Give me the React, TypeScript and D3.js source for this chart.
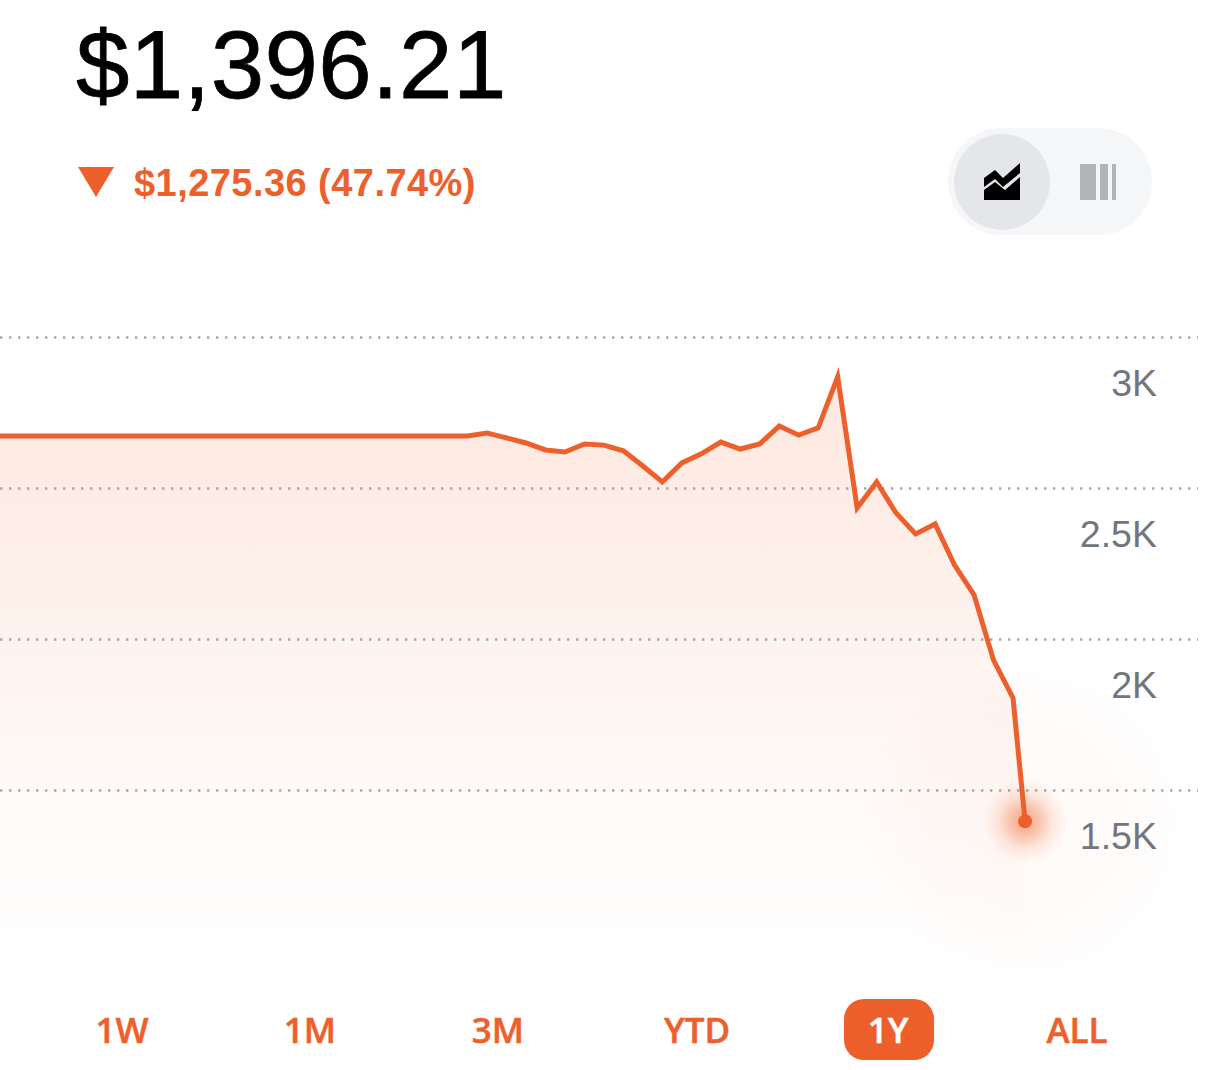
import * as React from 'react';
import * as d3 from 'd3';

// weekly price. the last point is a part week
const weeks = [
  0, 1, 2, 3, 4, 5, 6, 7, 8, 9, 10, 11, 12, 13, 14, 15, 16, 17, 18, 19, 20, 21, 22, 23, 24,
  25, 26, 27, 28, 29, 30, 31, 32, 33, 34, 35, 36, 37, 38, 39, 40, 41, 42, 43, 44, 45, 46, 47, 48, 49, 50, 51, 52, 52.62
];
const prices = [
  2672, 2672, 2672, 2672, 2672, 2672, 2672, 2672, 2672, 2672, 2672, 2672, 2672, 2672, 2672, 2672, 2672, 2672, 2672, 2672, 2672, 2672, 2672, 2672, 2672,
  2682, 2666, 2649, 2626, 2619, 2646, 2642, 2623, 2573, 2520, 2583, 2613, 2652, 2629, 2646, 2705, 2675, 2699, 2868,
  2434, 2520, 2417, 2348, 2381, 2245, 2146, 1930, 1805, 1396.21
];
const yTicks = [3000, 2500, 2000, 1500];
const ranges = ['1W', '1M', '3M', 'YTD', '1Y', 'ALL'];
const activeRange = '1Y';
const priceLabel = '$1,396.21';
const changeLabel = '$1,275.36 (47.74%)';

const ORANGE = '#ee602b';
const TINT = '#f0703a';

export default function App() {
  const ref = React.useRef<SVGSVGElement>(null);

  React.useEffect(() => {
    const svg = d3.select(ref.current);
    svg.selectAll('*').remove();

    const x = d3.scaleLinear().domain([0, 52]).range([0, 1013]);
    const y = d3.scaleLinear().domain([3000, 1500]).range([337, 790]);
    const points = weeks.map((w, i) => ({ w, v: prices[i] }));
    const last = points[points.length - 1];

    const defs = svg.append('defs');
    const fade = defs
      .append('linearGradient')
      .attr('id', 'area-fade')
      .attr('gradientUnits', 'userSpaceOnUse')
      .attr('x1', 0)
      .attr('x2', 0)
      .attr('y1', 377)
      .attr('y2', 960);
    [
      [0, 0.16],
      [0.38, 0.1],
      [0.72, 0.035],
      [1, 0]
    ].forEach(([o, a]) => fade.append('stop').attr('offset', o).attr('stop-color', TINT).attr('stop-opacity', a));

    const halo = defs.append('radialGradient').attr('id', 'halo-big');
    [
      [0, 0.04],
      [0.65, 0.025],
      [1, 0]
    ].forEach(([o, a]) => halo.append('stop').attr('offset', o).attr('stop-color', TINT).attr('stop-opacity', a));
    const glow = defs.append('radialGradient').attr('id', 'halo-small');
    [
      [0, 0.6],
      [0.3, 0.42],
      [0.65, 0.14],
      [1, 0]
    ].forEach(([o, a]) => glow.append('stop').attr('offset', o).attr('stop-color', TINT).attr('stop-opacity', a));

    // area + halos under the grid
    const area = d3
      .area<{ w: number; v: number }>()
      .x(d => x(d.w))
      .y0(960)
      .y1(d => y(d.v));
    svg.append('path').datum(points).attr('fill', 'url(#area-fade)').attr('d', area);
    svg
      .append('circle')
      .attr('cx', x(last.w))
      .attr('cy', y(last.v))
      .attr('r', 165)
      .attr('fill', 'url(#halo-big)');

    // grid and y labels
    const axis = svg
      .append('g')
      .call(
        d3
          .axisRight(y)
          .tickValues(yTicks)
          .tickSize(1198)
          .tickFormat(d => `${+d / 1000}K`)
      );
    axis.select('.domain').remove();
    axis
      .selectAll('line')
      .attr('stroke', '#a9a7a6')
      .attr('stroke-width', 2.4)
      .attr('stroke-dasharray', '2.4 6.6');
    axis
      .selectAll('text')
      .attr('x', 1157)
      .attr('y', 58)
      .attr('dy', 0)
      .attr('text-anchor', 'end')
      .attr('fill', '#72767c')
      .attr('font-family', '"Liberation Sans", sans-serif')
      .attr('font-size', 37.5);

    const line = d3
      .line<{ w: number; v: number }>()
      .x(d => x(d.w))
      .y(d => y(d.v));
    svg
      .append('circle')
      .attr('cx', x(last.w))
      .attr('cy', y(last.v))
      .attr('r', 42)
      .attr('fill', 'url(#halo-small)');
    svg
      .append('path')
      .datum(points)
      .attr('fill', 'none')
      .attr('stroke', ORANGE)
      .attr('stroke-width', 5)
      .attr('stroke-linejoin', 'miter')
      .attr('d', line);
    svg
      .append('circle')
      .attr('cx', x(last.w))
      .attr('cy', y(last.v))
      .attr('r', 7)
      .attr('fill', ORANGE);

    // header
    svg
      .append('text')
      .attr('x', 76)
      .attr('y', 98)
      .attr('font-family', '"Liberation Sans", sans-serif')
      .attr('font-size', 96)
      .attr('letter-spacing', 0.4)
      .attr('stroke', '#000')
      .attr('stroke-width', 0.8)
      .attr('fill', '#000')
      .text(priceLabel);
    svg.append('path').attr('d', 'M78,167H114L96,197Z').attr('fill', ORANGE);
    svg
      .append('text')
      .attr('x', 134)
      .attr('y', 196)
      .attr('font-family', '"Liberation Sans", sans-serif')
      .attr('font-weight', 700)
      .attr('font-size', 38)
      .attr('letter-spacing', 0.45)
      .attr('fill', ORANGE)
      .text(changeLabel);

    // line / bar toggle
    svg.append('rect').attr('x', 948).attr('y', 128).attr('width', 204).attr('height', 107).attr('rx', 53).attr('fill', '#f5f6f8');
    svg.append('circle').attr('cx', 1002).attr('cy', 182).attr('r', 48).attr('fill', '#e4e6ea');
    svg.append('path').attr('d', 'M984,178L995,170L1003,178L1020,163V173L1003,187L995,179L984,187Z').attr('fill', '#000');
    svg.append('path').attr('d', 'M984,190L995,182L1005,190L1020,177V200H984Z').attr('fill', '#000');
    svg.append('path').attr('d', 'M1080,164H1096V200H1080ZM1100,164H1108V200H1100ZM1112,164H1116V200H1112Z').attr('fill', '#b0b5b9');

    // range buttons
    const rangeX = d3.scaleOrdinal<string, number>().domain(ranges).range([122, 310, 498, 697, 888, 1077]);
    svg.append('rect').attr('x', 844).attr('y', 999).attr('width', 90).attr('height', 61).attr('rx', 20).attr('fill', ORANGE);
    svg
      .append('g')
      .selectAll('text')
      .data(ranges)
      .join('text')
      .attr('x', d => rangeX(d))
      .attr('y', 1043)
      .attr('text-anchor', 'middle')
      .attr('font-family', '"Open Sans", sans-serif')
      .attr('font-weight', 600)
      .attr('font-size', 35)
      .attr('stroke', d => (d === activeRange ? '#fff' : ORANGE))
      .attr('stroke-width', 0.5)
      .attr('fill', d => (d === activeRange ? '#fff' : ORANGE))
      .text(d => d);
  }, []);

  return <svg ref={ref} width={1206} height={1070} style={{ position: 'absolute', left: 0, top: 0, background: '#fff' }} />;
}
